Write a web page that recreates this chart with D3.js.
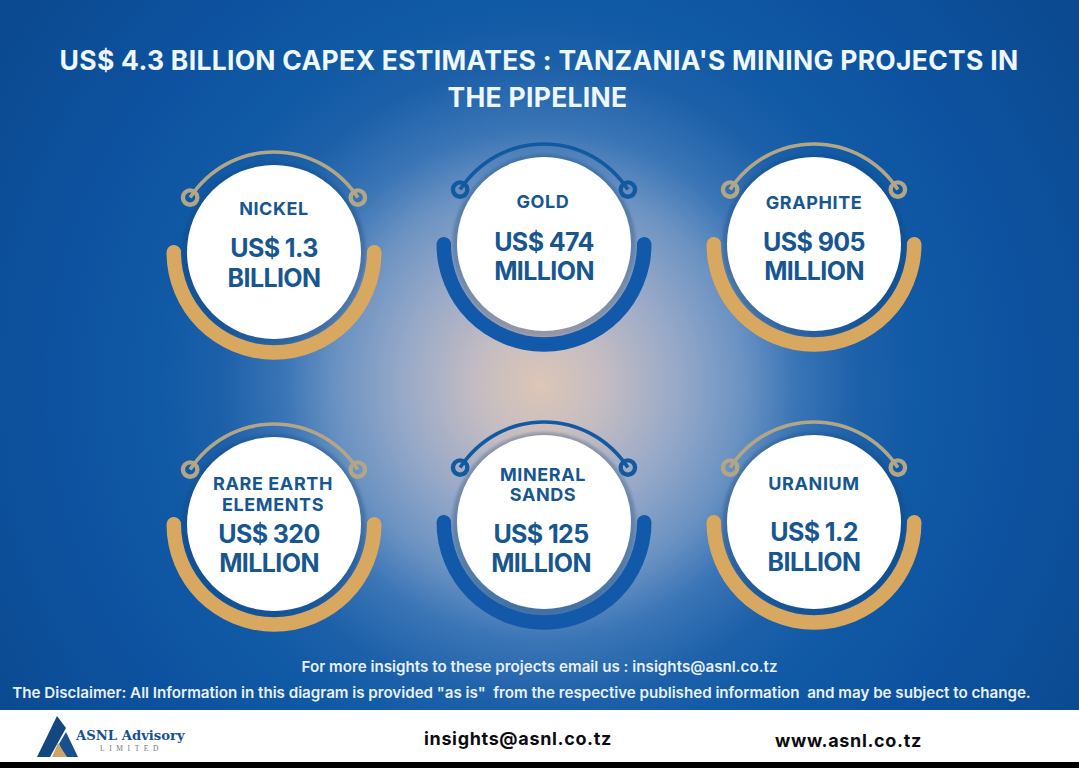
<!DOCTYPE html>
<html>
<head>
<meta charset="utf-8">
<title>Tanzania mining projects capex</title>
<script src="https://cdn.jsdelivr.net/npm/d3@7"></script>
<style>
  html, body { margin: 0; padding: 0; background: #000; overflow: hidden; }
  svg { display: block; font-family: Inter, "Open Sans", sans-serif; }
</style>
</head>
<body>
<div id="chart"></div>
<script>
// chart values
var minerals = ["NICKEL", "GOLD", "GRAPHITE", "RARE EARTH|ELEMENTS", "MINERAL|SANDS", "URANIUM"];
var amounts = [1.3, 474, 905, 320, 125, 1.2];
var units = ["BILLION", "MILLION", "MILLION", "MILLION", "MILLION", "BILLION"];
var themes = ["gold", "blue", "gold", "gold", "blue", "gold"];

var titleLines = ["US$ 4.3 BILLION CAPEX ESTIMATES : TANZANIA'S MINING PROJECTS IN", "THE PIPELINE"];
var noteLines = [
    "For more insights to these projects email us : insights@asnl.co.tz",
    "The Disclaimer: All Information in this diagram is provided \"as is\"  from the respective published information  and may be subject to change."
];

var svgWidth = 1079;
var svgHeight = 768;

// card layout, offsets are from the card centre
var cardNudge = [8, 0, 0, 2, 0, 0];
var labelDy = [[-37], [-36], [-35], [-34, -13], [-41, -21], [-32]];
var labelDx = [0, -1, 0, -1, -1, 0];
var valueDy = [[5, 35], [7, 36], [7, 36], [19, 48], [21, 50], [19, 49]];
var valueDx = [0, 0, 0, -5, -3, 0];

var colors = {
    gold: { band: "#d9a860", wire: "#b3a686" },
    blue: { band: "#1259a9", wire: "#13599f" }
};
var inkBlue = "#17568f";

var svg = d3.select("#chart")
    .append("svg")
    .attr("width", svgWidth)
    .attr("height", svgHeight);

var defs = svg.append("defs");

var glow = defs.append("radialGradient")
    .attr("id", "glow")
    .attr("gradientUnits", "userSpaceOnUse")
    .attr("cx", 540)
    .attr("cy", 385)
    .attr("r", 640);
[[0, "#dcc6b6"], [0.1, "#c4bcc2"], [0.22, "#95a8c8"], [0.32, "#6a92c2"], [0.4, "#3a75b6"], [0.5, "#1c60a9"], [0.6, "#1059a5"], [0.75, "#0d52a0"], [1, "#0b4a90"]]
    .forEach(s => glow.append("stop").attr("offset", s[0]).attr("stop-color", s[1]));

defs.append("filter")
    .attr("id", "soft")
    .append("feGaussianBlur")
    .attr("stdDeviation", 1.5);

// background and footer band
svg.append("rect").attr("width", svgWidth).attr("height", 710).attr("fill", "url(#glow)");
svg.append("rect").attr("y", 710).attr("width", svgWidth).attr("height", 52).attr("fill", "#fff");
svg.append("rect").attr("y", 762).attr("width", svgWidth).attr("height", 6).attr("fill", "#000");

// title
svg.selectAll(".title")
    .data(titleLines)
    .enter()
    .append("text")
    .attr("class", "title")
    .attr("x", (d, i) => i == 0 ? 539 : 537.5)
    .attr("y", (d, i) => i == 0 ? 70 : 107)
    .attr("text-anchor", "middle")
    .attr("fill", "#eef7fb")
    .attr("font-size", 26.5)
    .attr("font-weight", 700)
    .attr("letter-spacing", 0.28)
    .text(d => d);

// one scale per direction for the 3 x 2 grid
var xScale = d3.scalePoint().domain([0, 1, 2]).range([274, 814]);
var yScale = d3.scalePoint().domain([0, 1]).range([244, 522]);

var rows = minerals.map((name, i) => ({
    name: name,
    amount: amounts[i],
    unit: units[i],
    theme: colors[themes[i]],
    x: xScale(i % 3),
    y: yScale(Math.floor(i / 3)) + cardNudge[i],
    index: i
}));

// the extra 0.07 rad lets the round caps reach above the disc centre
var bandArc = d3.arc()
    .innerRadius(93)
    .outerRadius(107.5)
    .cornerRadius(7.2)
    .startAngle(Math.PI / 2 - 0.07)
    .endAngle(Math.PI * 3 / 2 + 0.07);

var wireAngle = 57 * Math.PI / 180;
var wireArc = d3.arc()
    .innerRadius(98.2)
    .outerRadius(101.8)
    .startAngle(-wireAngle)
    .endAngle(wireAngle);

var cards = svg.selectAll(".card")
    .data(rows)
    .enter()
    .append("g")
    .attr("class", "card")
    .attr("transform", d => `translate(${d.x}, ${d.y})`);

// soft shadow round the disc
cards.append("circle")
    .attr("r", 92)
    .attr("cy", 2)
    .attr("fill", "#173f6e")
    .attr("opacity", 0.3)
    .attr("filter", "url(#soft)");

cards.append("path")
    .attr("d", bandArc())
    .attr("fill", d => d.theme.band);

cards.append("path")
    .attr("d", wireArc())
    .attr("fill", d => d.theme.wire);

// little rings on the wire ends
cards.selectAll(".ring")
    .data(d => [-1, 1].map(side => ({ side: side, color: d.theme.wire })))
    .enter()
    .append("circle")
    .attr("class", "ring")
    .attr("cx", d => d.side * 100 * Math.sin(wireAngle))
    .attr("cy", d => -100 * Math.cos(wireAngle))
    .attr("r", 7.2)
    .attr("fill", "none")
    .attr("stroke", d => d.color)
    .attr("stroke-width", 4.4);

cards.append("circle")
    .attr("r", 87)
    .attr("fill", "#fff");

// mineral name, one or two lines
cards.selectAll(".name")
    .data(d => d.name.split("|").map((line, j) => ({ line: line, dy: labelDy[d.index][j], dx: labelDx[d.index] })))
    .enter()
    .append("text")
    .attr("class", "name")
    .attr("x", d => d.dx)
    .attr("y", d => d.dy)
    .attr("text-anchor", "middle")
    .attr("fill", inkBlue)
    .attr("font-size", 18)
    .attr("font-weight", 700)
    .attr("letter-spacing", 0.6)
    .text(d => d.line);

// amount and unit
cards.selectAll(".value")
    .data(d => ["US$ " + d.amount, d.unit].map((line, j) => ({ line: line, dy: valueDy[d.index][j], dx: valueDx[d.index] })))
    .enter()
    .append("text")
    .attr("class", "value")
    .attr("x", d => d.dx)
    .attr("y", d => d.dy)
    .attr("text-anchor", "middle")
    .attr("fill", inkBlue)
    .attr("font-size", 25)
    .attr("font-weight", 700)
    .attr("letter-spacing", -0.6)
    .text(d => d.line);

// notes above the footer
svg.selectAll(".note")
    .data(noteLines)
    .enter()
    .append("text")
    .attr("class", "note")
    .attr("x", (d, i) => i == 0 ? 539.5 : 521.5)
    .attr("y", (d, i) => i == 0 ? 672 : 698)
    .attr("text-anchor", "middle")
    .attr("fill", "#e8f1f6")
    .attr("font-size", 15.2)
    .attr("font-weight", 600)
    .attr("letter-spacing", (d, i) => i == 0 ? 0 : -0.03)
    .style("white-space", "pre")
    .text(d => d);

// logo
var logo = svg.append("g");
logo.append("path").attr("d", "M57 716L37 757H50L66 728Z").attr("fill", "#12477f");
logo.append("path").attr("d", "M66 732L78 757H65L59 744Z").attr("fill", "#17508f");
logo.append("path").attr("d", "M58 743L67 757H52Z").attr("fill", "#cda468");
logo.append("text")
    .attr("x", 76).attr("y", 740)
    .attr("font-family", "'DejaVu Serif', 'Liberation Serif', serif")
    .attr("font-size", 13.2)
    .attr("font-weight", 700)
    .attr("fill", "#17508f")
    .text("ASNL Advisory");
logo.append("text")
    .attr("x", 100).attr("y", 751)
    .attr("font-family", "'Liberation Serif', serif")
    .attr("font-size", 7.5)
    .attr("letter-spacing", 4.6)
    .attr("fill", "#6f7680")
    .text("LIMITED");

// contact lines
svg.selectAll(".contact")
    .data(["insights@asnl.co.tz", "www.asnl.co.tz"])
    .enter()
    .append("text")
    .attr("class", "contact")
    .attr("x", (d, i) => i == 0 ? 424 : 775)
    .attr("y", (d, i) => i == 0 ? 745 : 747)
    .attr("fill", "#0c0c10")
    .attr("font-size", 18)
    .attr("font-weight", 700)
    .attr("letter-spacing", 0.65)
    .text(d => d);
</script>
</body>
</html>
